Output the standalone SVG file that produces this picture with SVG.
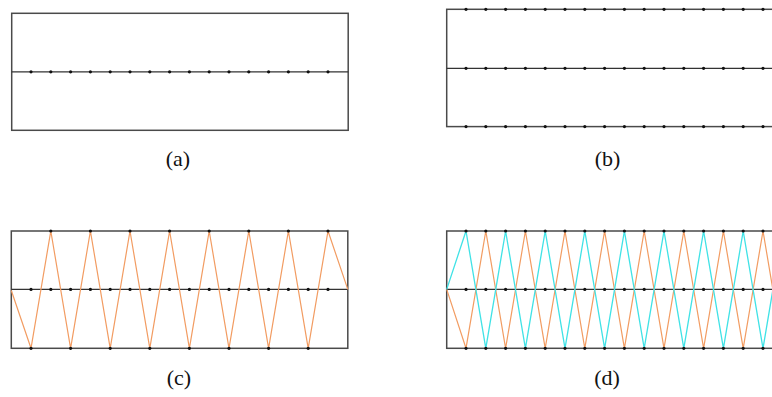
<svg xmlns="http://www.w3.org/2000/svg" xmlns:xlink="http://www.w3.org/1999/xlink" width="772" height="397" viewBox="0 0 772 397">
<style>
.frame{fill:none;stroke:#4a4a4a;stroke-width:1.5}
.mid{fill:none;stroke:#333;stroke-width:1.3}
.or{fill:none;stroke:#F29C62;stroke-width:1.2;stroke-linejoin:miter}
.cy{fill:none;stroke:#40E2E6;stroke-width:1.3;stroke-linejoin:miter}
text{font-family:'Liberation Serif','Times New Roman',serif;font-size:22px;fill:#111;text-anchor:middle}
</style>
<defs>
<circle id="dot" r="1.6" fill="#111"/>
<g id="row">
<use xlink:href="#dot" x="0"/><use xlink:href="#dot" x="19.8"/><use xlink:href="#dot" x="39.6"/><use xlink:href="#dot" x="59.4"/>
<use xlink:href="#dot" x="79.2"/><use xlink:href="#dot" x="99"/><use xlink:href="#dot" x="118.8"/><use xlink:href="#dot" x="138.6"/>
<use xlink:href="#dot" x="158.4"/><use xlink:href="#dot" x="178.2"/><use xlink:href="#dot" x="198"/><use xlink:href="#dot" x="217.8"/>
<use xlink:href="#dot" x="237.6"/><use xlink:href="#dot" x="257.4"/><use xlink:href="#dot" x="277.2"/><use xlink:href="#dot" x="297"/>
</g>
</defs>
<rect width="772" height="397" fill="#fff"/>

<g id="panel-a">
<rect class="frame" x="11.7" y="13.3" width="336.5" height="117"/>
<line class="mid" x1="11.7" y1="71.8" x2="348.2" y2="71.8"/>
<use xlink:href="#row" x="31" y="71.8"/>
<text x="178" y="166">(a)</text>
</g>

<g id="panel-b">
<rect class="frame" x="446.7" y="9.3" width="336.5" height="117.3"/>
<line class="mid" x1="446.7" y1="68.3" x2="783" y2="68.3"/>
<use xlink:href="#row" x="466" y="9.3"/>
<use xlink:href="#row" x="466" y="68.3"/>
<use xlink:href="#row" x="466" y="126.6"/>
<text x="607.5" y="166">(b)</text>
</g>

<g id="panel-c">
<rect class="frame" x="11.3" y="231" width="336.5" height="117.3"/>
<line class="mid" x1="11.3" y1="289.4" x2="347.8" y2="289.4"/>
<polyline class="or" points="11.3,290.5 31,348.3 50.8,231 70.6,348.3 90.4,231 110.2,348.3 130,231 149.8,348.3 169.6,231 189.4,348.3 209.2,231 229,348.3 248.8,231 268.6,348.3 288.4,231 308.2,348.3 328,231 347.8,289.4"/>
<use xlink:href="#row" x="31" y="289.4"/>
<g>
<use xlink:href="#dot" x="50.8" y="231"/><use xlink:href="#dot" x="90.4" y="231"/><use xlink:href="#dot" x="130" y="231"/><use xlink:href="#dot" x="169.6" y="231"/>
<use xlink:href="#dot" x="209.2" y="231"/><use xlink:href="#dot" x="248.8" y="231"/><use xlink:href="#dot" x="288.4" y="231"/><use xlink:href="#dot" x="328" y="231"/>
<use xlink:href="#dot" x="31" y="348.3"/><use xlink:href="#dot" x="70.6" y="348.3"/><use xlink:href="#dot" x="110.2" y="348.3"/><use xlink:href="#dot" x="149.8" y="348.3"/>
<use xlink:href="#dot" x="189.4" y="348.3"/><use xlink:href="#dot" x="229" y="348.3"/><use xlink:href="#dot" x="268.6" y="348.3"/><use xlink:href="#dot" x="308.2" y="348.3"/>
</g>
<text x="179" y="385">(c)</text>
</g>

<g id="panel-d">
<rect class="frame" x="446.7" y="231" width="336.5" height="117.3"/>
<line class="mid" x1="446.7" y1="289.4" x2="783" y2="289.4"/>
<polyline class="or" points="446.7,289.4 466,348.3 485.8,231 505.6,348.3 525.4,231 545.2,348.3 565,231 584.8,348.3 604.6,231 624.4,348.3 644.2,231 664,348.3 683.8,231 703.6,348.3 723.4,231 743.2,348.3 763,231 782.8,348.3"/>
<polyline class="cy" points="446.7,289.4 466,231 485.8,348.3 505.6,231 525.4,348.3 545.2,231 565,348.3 584.8,231 604.6,348.3 624.4,231 644.2,348.3 664,231 683.8,348.3 703.6,231 723.4,348.3 743.2,231 763,348.3 782.8,231"/>
<use xlink:href="#row" x="466" y="231"/>
<use xlink:href="#row" x="466" y="289.4"/>
<use xlink:href="#row" x="466" y="348.3"/>
<text x="607" y="385">(d)</text>
</g>
</svg>
